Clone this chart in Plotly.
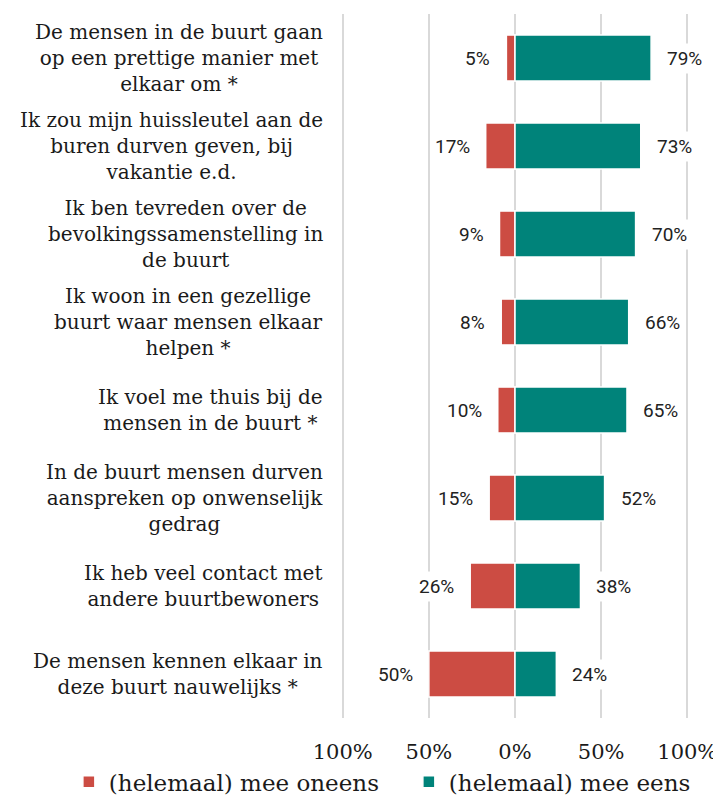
import plotly.graph_objects as go

categories = [
    "De mensen in de buurt gaan<br>op een prettige manier met<br>elkaar om *",
    "Ik zou mijn huissleutel aan de<br>buren durven geven, bij<br>vakantie e.d.",
    "Ik ben tevreden over de<br>bevolkingssamenstelling in<br>de buurt",
    "Ik woon in een gezellige<br>buurt waar mensen elkaar<br>helpen *",
    "Ik voel me thuis bij de<br>mensen in de buurt *",
    "In de buurt mensen durven<br>aanspreken op onwenselijk<br>gedrag",
    "Ik heb veel contact met<br>andere buurtbewoners",
    "De mensen kennen elkaar in<br>deze buurt nauwelijks *",
]
oneens = [5, 17, 9, 8, 10, 15, 26, 50]
eens = [79, 73, 70, 66, 65, 52, 38, 24]
tick_vals = [-100, -50, 0, 50, 100]
tick_text = ["100%", "50%", "0%", "50%", "100%"]

RED = "#cc4c43"
TEAL = "#00837a"
SERIF = "DejaVu Serif"
SANS = "Roboto"

fig = go.Figure()
fig.add_trace(go.Bar(
    y=categories, x=[-v for v in oneens], orientation="h",
    name="(helemaal) mee oneens", marker=dict(color=RED, line=dict(color="white", width=1.5)),
    width=0.52, hoverinfo="skip", legend="legend",
))
fig.add_trace(go.Bar(
    y=categories, x=eens, orientation="h",
    name="(helemaal) mee eens", marker=dict(color=TEAL, line=dict(color="white", width=1.5)),
    width=0.52, hoverinfo="skip", legend="legend2",
))

annotations = []
for c, vo, ve in zip(categories, oneens, eens):
    annotations.append(dict(
        x=-vo, y=c, xref="x", yref="y", text=f"{vo}%", showarrow=False,
        xanchor="right", xshift=-12, bgcolor="white", borderpad=3,
        font=dict(family=SANS, size=19, color="#222222"),
    ))
    annotations.append(dict(
        x=ve, y=c, xref="x", yref="y", text=f"{ve}%", showarrow=False,
        xanchor="left", xshift=12, bgcolor="white", borderpad=3,
        font=dict(family=SANS, size=19, color="#222222"),
    ))
    annotations.append(dict(
        x=0, y=c, xref="paper", yref="y", text=c, showarrow=False,
        xanchor="right", xshift=-16, align="center",
        font=dict(family=SERIF, size=20, color="#1a1a1a"),
    ))

legend_common = dict(
    orientation="h", yanchor="top", y=-0.06,
    font=dict(family=SERIF, size=23, color="#1a1a1a"),
    itemwidth=30, bgcolor="rgba(0,0,0,0)",
)

# the page body has an 8px margin, so the figure is sized to fit inside it
fig.update_layout(
    width=713, height=787,
    margin=dict(l=333, r=32, t=6, b=77, autoexpand=False),
    barmode="relative",
    bargap=0.48,
    plot_bgcolor="white", paper_bgcolor="white",
    showlegend=True,
    legend=dict(x=-0.782, xanchor="left", **legend_common),
    legend2=dict(x=0.195, xanchor="left", **legend_common),
    annotations=annotations,
    xaxis=dict(
        range=[-101, 101], tickvals=tick_vals, ticktext=tick_text,
        showgrid=True, gridcolor="#d9d9d9", gridwidth=2,
        zeroline=True, zerolinecolor="#d9d9d9", zerolinewidth=2,
        showline=False, ticks="", ticklabelstandoff=19,
        tickfont=dict(family=SERIF, size=21, color="#1a1a1a"),
        fixedrange=True,
    ),
    yaxis=dict(
        categoryorder="array", categoryarray=categories, autorange="reversed",
        showticklabels=False, showgrid=False, zeroline=False, ticks="",
        fixedrange=True,
    ),
)

fig.write_html("out.html")
